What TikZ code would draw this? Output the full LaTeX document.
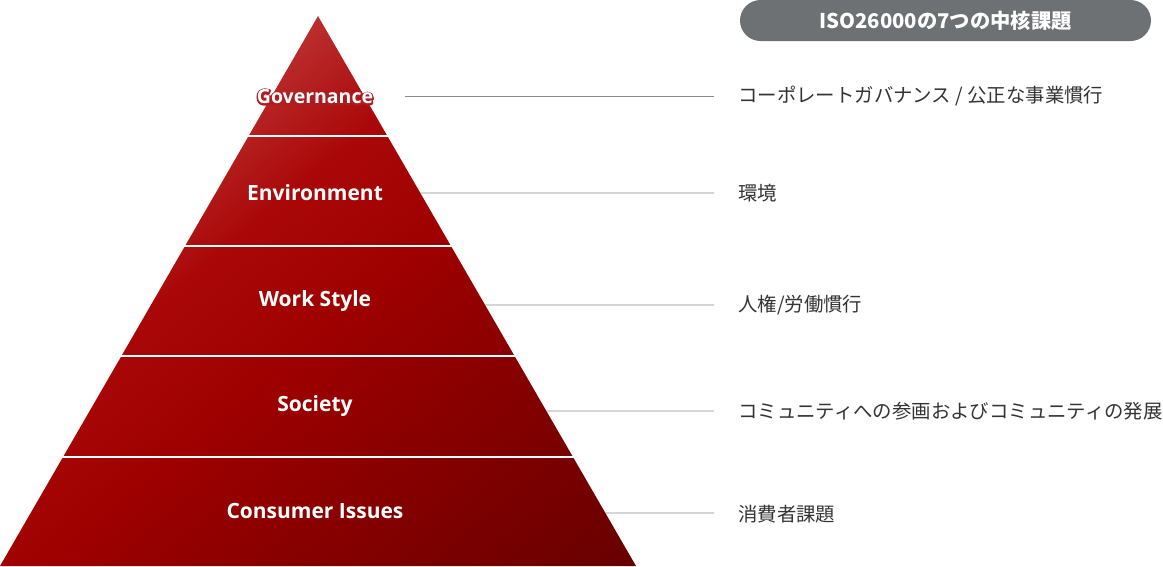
\documentclass[tikz,border=0pt]{standalone}
\usepackage{fontspec}
\setmainfont{Open Sans}
\newfontfamily\jp{Noto Sans CJK JP}
\usetikzlibrary{calc}
\definecolor{lineg}{HTML}{8A8A8A}
\definecolor{pillg}{HTML}{6D7173}
\definecolor{txt}{HTML}{333333}
\definecolor{rc0}{HTML}{680000}
\definecolor{rc1}{HTML}{890000}
\definecolor{rc2}{HTML}{9E0000}
\definecolor{rc3}{HTML}{AA0808}
\definecolor{rc4}{HTML}{BD3333}
\pgfdeclareverticalshading{pyrshade}{100bp}{color(0bp)=(rc0); color(15bp)=(rc0); color(35bp)=(rc1); color(47bp)=(rc2); color(58bp)=(rc3); color(69bp)=(rc4); color(100bp)=(rc4)}
\begin{document}
\begin{tikzpicture}[x=1pt,y=-1pt,
 lvl/.style={text=white,font=\bfseries\fontsize{21}{23}\selectfont,inner sep=0},
 jplabel/.style={anchor=west,text=txt,font=\jp\fontsize{19.4}{21}\selectfont,inner sep=0},
 conn/.style={draw=lineg,line width=0.9pt},
 sep/.style={draw=white,line width=2.2pt,shorten <=-1pt,shorten >=-1pt}]
\useasboundingbox (0,0) rectangle (1163,566);
\coordinate (apex) at (318,16);
\coordinate (bl) at (0,566);
\coordinate (br) at (636,566);
% connector endpoints
\coordinate (s1) at (405,96);
\coordinate (s2) at ($(apex)!0.3218!(br)$);
\coordinate (s3) at ($(apex)!0.52545!(br)$);
\coordinate (s4) at ($(apex)!0.71818!(br)$);
\coordinate (s5) at ($(apex)!0.90364!(br)$);
\coordinate (e1) at (714,96);
\coordinate (e2) at (714,193);
\coordinate (e3) at (714,305);
\coordinate (e4) at (714,411);
\coordinate (e5) at (714,513);
\foreach \i in {1,...,5} \draw[conn] (s\i) -- (e\i);
% pyramid
\shade[shading=pyrshade, shading angle=40] (apex) -- (br) -- (bl) -- cycle;
\foreach \f in {0.21818,0.41818,0.61818,0.80182}
  \draw[sep] ($(apex)!\f!(bl)$) -- ($(apex)!\f!(br)$);
% level labels
\node[lvl,font=\bfseries\fontsize{19.5}{21}\selectfont] (gov) at (315,97) {\rlap{\special{pdf:literal direct 1 Tr 3 w 1 j 0.68 0.11 0.13 RG}Governance\special{pdf:literal direct 0 Tr 0.4 w 0 j}}Governance};
\node[lvl] (env) at (315,193) {Environment};
\node[lvl] (work) at (315,301) {Work Style};
\node[lvl] (soc) at (315,406) {Society};
\node[lvl] (cons) at (315,511) {Consumer Issues};
% right labels
\node[jplabel] (j1) at (738,96) {コーポレートガバナンス / 公正な事業慣行};
\node[jplabel] (j2) at (738,193) {環境};
\node[jplabel] (j3) at (738,305) {人権/労働慣行};
\node[jplabel] (j4) at (738,411) {コミュニティへの参画およびコミュニティの発展};
\node[jplabel] (j5) at (738,514) {消費者課題};
% header pill
\node[fill=pillg, rounded corners=20.5pt, minimum width=411pt, minimum height=41pt, inner sep=0, text=white, font=\jp\bfseries\fontsize{20.3}{21}\selectfont] (hdr) at (945.5,20.5) {ISO26000の7つの中核課題};
\end{tikzpicture}
\end{document}
